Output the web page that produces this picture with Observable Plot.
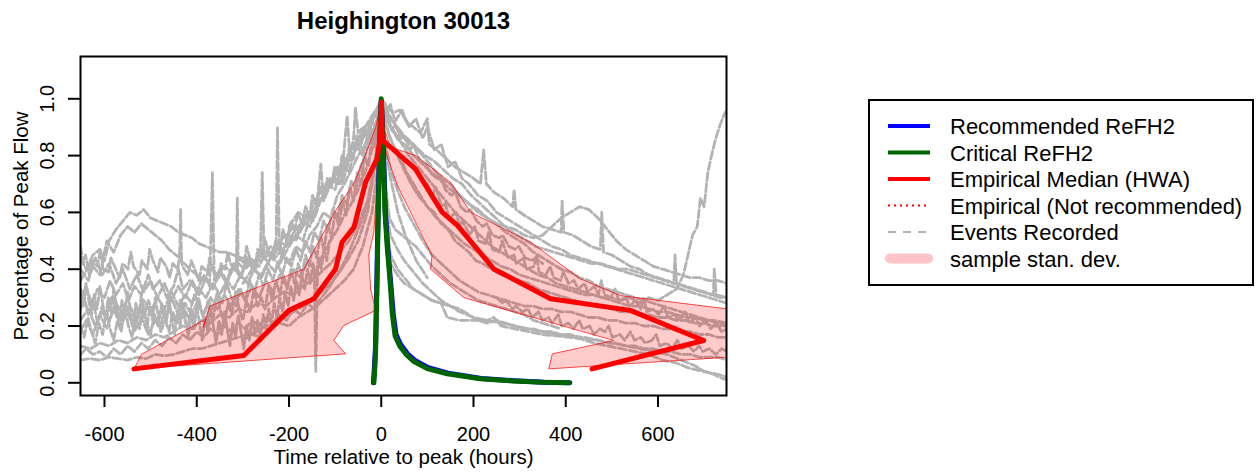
<!DOCTYPE html>
<html><head><meta charset="utf-8">
<script src="https://cdn.jsdelivr.net/npm/d3@7"></script>
<script src="https://cdn.jsdelivr.net/npm/@observablehq/plot@0.6"></script>
<style>
html,body{margin:0;padding:0;background:#fff;}
#wrap{position:relative;width:1258px;height:472px;font-family:"Liberation Sans",Arial,sans-serif;}
</style></head><body><div id="wrap"></div>
<script>
const chartTitle = "Heighington 30013";
const xLabel = "Time relative to peak (hours)";
const yLabel = "Percentage of Peak Flow";
const xTicks = [-600,-400,-200,0,200,400,600];
const yTicks = [0,0.2,0.4,0.6,0.8,1.0];

// Recorded events: [hours, fraction of peak]
const ev1 = [[-652,0.44],[-640,0.40],[-625,0.45],[-610,0.47],[-600,0.43],[-590,0.50],[-575,0.54],[-560,0.57],[-545,0.60],[-530,0.59],[-515,0.61],[-500,0.58],[-485,0.57],[-470,0.56],[-455,0.55],[-440,0.53],[-425,0.52],[-410,0.51],[-395,0.49],[-380,0.48],[-365,0.47],[-350,0.46],[-335,0.46],[-320,0.45],[-305,0.44],[-290,0.44],[-275,0.43],[-260,0.43],[-245,0.45],[-230,0.44],[-215,0.47],[-200,0.49],[-185,0.52],[-170,0.55],[-155,0.58],[-140,0.62],[-125,0.66],[-110,0.70],[-95,0.74],[-80,0.78],[-65,0.82],[-50,0.86],[-35,0.90],[-20,0.94],[-8,0.97],[0,1.0],[8,0.96],[20,0.93],[35,0.90],[50,0.87],[70,0.84],[90,0.80],[110,0.76],[130,0.72],[150,0.70],[170,0.66],[190,0.63],[210,0.60],[230,0.58],[250,0.56],[270,0.55],[290,0.54],[310,0.52],[330,0.51],[350,0.52],[370,0.55],[390,0.58],[410,0.60],[430,0.62],[450,0.61],[470,0.58],[490,0.54],[510,0.50],[530,0.47],[550,0.45],[570,0.43],[590,0.41],[610,0.40],[630,0.39],[650,0.38],[670,0.37],[690,0.37],[710,0.36],[730,0.36],[750,0.35]];
const ev2 = [[-652,0.36],[-630,0.42],[-610,0.38],[-595,0.50],[-580,0.46],[-565,0.52],[-550,0.55],[-535,0.53],[-520,0.56],[-505,0.54],[-490,0.52],[-475,0.50],[-460,0.47],[-445,0.45],[-437,0.44],[-435,0.61],[-433,0.43],[-415,0.40],[-400,0.38],[-385,0.36],[-370,0.40],[-355,0.38],[-340,0.41],[-325,0.39],[-314,0.42],[-312,0.65],[-310,0.42],[-295,0.40],[-280,0.43],[-265,0.41],[-250,0.46],[-235,0.44],[-220,0.50],[-205,0.48],[-190,0.53],[-175,0.56],[-160,0.60],[-145,0.58],[-130,0.65],[-115,0.68],[-100,0.72],[-85,0.70],[-70,0.78],[-55,0.82],[-40,0.86],[-25,0.90],[-12,0.95],[0,1.0],[10,0.97],[25,0.92],[40,0.88],[55,0.85],[75,0.83],[95,0.80],[115,0.78],[135,0.75],[155,0.72],[175,0.70],[195,0.66],[215,0.63],[235,0.60],[255,0.57],[275,0.54],[295,0.52],[315,0.50],[335,0.48],[355,0.47],[375,0.46],[395,0.45],[415,0.44],[435,0.43],[455,0.42],[475,0.42],[495,0.41],[515,0.40],[535,0.40],[555,0.39],[575,0.38],[595,0.37],[615,0.36],[635,0.35],[655,0.34],[675,0.33],[695,0.32],[715,0.31],[735,0.30],[750,0.30]];
const ev3 = [[-652,0.30],[-640,0.34],[-628,0.28],[-615,0.33],[-600,0.30],[-588,0.36],[-575,0.31],[-560,0.35],[-548,0.29],[-535,0.34],[-520,0.31],[-505,0.38],[-495,0.33],[-480,0.36],[-465,0.30],[-450,0.34],[-440,0.40],[-430,0.33],[-415,0.36],[-400,0.32],[-385,0.38],[-372,0.34],[-366,0.74],[-362,0.36],[-350,0.40],[-335,0.36],[-320,0.42],[-305,0.38],[-290,0.44],[-275,0.40],[-262,0.46],[-258,0.74],[-254,0.45],[-240,0.48],[-228,0.46],[-225,0.90],[-221,0.50],[-205,0.52],[-190,0.55],[-175,0.53],[-160,0.60],[-148,0.57],[-135,0.64],[-120,0.67],[-105,0.72],[-90,0.70],[-75,0.77],[-60,0.81],[-45,0.85],[-30,0.89],[-15,0.94],[-5,0.97],[0,0.99],[6,0.95],[15,0.92],[30,0.88],[45,0.84],[60,0.80],[80,0.76],[100,0.72],[120,0.68],[140,0.64],[160,0.60],[180,0.57],[200,0.54],[220,0.51],[240,0.48],[260,0.46],[280,0.44],[300,0.42],[320,0.40],[340,0.38],[360,0.37],[380,0.35],[400,0.34],[420,0.33],[440,0.32],[460,0.31],[480,0.30],[500,0.29],[520,0.28],[540,0.27],[560,0.27],[580,0.26],[600,0.25],[620,0.25],[640,0.24],[660,0.23],[680,0.23],[700,0.22],[720,0.22],[750,0.21]];
const ev4 = [[-652,0.08],[-630,0.085],[-610,0.08],[-590,0.09],[-570,0.085],[-550,0.08],[-530,0.09],[-510,0.085],[-490,0.10],[-470,0.095],[-450,0.10],[-430,0.11],[-410,0.12],[-390,0.12],[-370,0.13],[-350,0.14],[-330,0.15],[-310,0.16],[-290,0.17],[-270,0.18],[-250,0.20],[-230,0.21],[-210,0.23],[-190,0.25],[-170,0.27],[-150,0.29],[-130,0.32],[-110,0.35],[-90,0.39],[-70,0.44],[-50,0.50],[-30,0.60],[-15,0.75],[-5,0.90],[0,0.98],[5,0.80],[12,0.60],[20,0.52],[35,0.47],[50,0.43],[70,0.39],[90,0.35],[110,0.32],[130,0.29],[150,0.27],[170,0.25],[200,0.23],[230,0.22],[260,0.21],[290,0.20],[320,0.19],[350,0.18],[380,0.17],[410,0.165],[440,0.16],[470,0.15],[500,0.14],[530,0.13],[560,0.12],[590,0.11],[620,0.10],[650,0.08],[680,0.06],[700,0.04],[720,0.03],[740,0.015],[750,0.01]];
const ev5 = [[-652,0.13],[-630,0.12],[-610,0.14],[-590,0.13],[-570,0.15],[-550,0.14],[-530,0.16],[-510,0.15],[-490,0.17],[-470,0.16],[-450,0.18],[-430,0.20],[-410,0.19],[-390,0.22],[-370,0.21],[-350,0.24],[-330,0.23],[-310,0.26],[-290,0.25],[-270,0.28],[-250,0.27],[-230,0.30],[-210,0.32],[-190,0.31],[-170,0.34],[-150,0.36],[-130,0.39],[-110,0.42],[-90,0.46],[-70,0.50],[-50,0.56],[-30,0.64],[-15,0.76],[-5,0.90],[0,0.97],[5,0.75],[12,0.55],[20,0.45],[35,0.40],[50,0.37],[70,0.33],[90,0.31],[110,0.29],[130,0.28],[150,0.27],[170,0.26],[190,0.24],[210,0.22],[230,0.21],[250,0.22],[270,0.21],[290,0.20],[310,0.19],[330,0.19],[350,0.18],[370,0.18],[390,0.17],[410,0.17],[430,0.16],[450,0.15],[470,0.15],[490,0.14],[510,0.14],[530,0.13],[550,0.13],[570,0.12],[590,0.12],[610,0.11],[630,0.11],[650,0.10],[670,0.10],[690,0.09],[710,0.09],[730,0.09],[750,0.08]];
const ev6 = [[-652,0.22],[-635,0.26],[-620,0.20],[-605,0.25],[-590,0.22],[-575,0.28],[-560,0.24],[-545,0.27],[-530,0.22],[-515,0.29],[-500,0.25],[-485,0.30],[-470,0.26],[-455,0.32],[-440,0.27],[-425,0.31],[-410,0.28],[-395,0.33],[-380,0.30],[-365,0.35],[-350,0.31],[-335,0.36],[-320,0.33],[-305,0.38],[-290,0.35],[-275,0.40],[-260,0.37],[-245,0.42],[-230,0.39],[-215,0.45],[-200,0.42],[-185,0.48],[-170,0.46],[-155,0.52],[-140,0.55],[-125,0.60],[-110,0.58],[-95,0.66],[-80,0.70],[-65,0.75],[-50,0.80],[-35,0.84],[-20,0.88],[-8,0.93],[0,0.98],[8,0.92],[20,0.86],[35,0.80],[50,0.75],[65,0.70],[80,0.66],[100,0.62],[120,0.58],[140,0.55],[160,0.52],[180,0.49],[200,0.47],[220,0.45],[240,0.43],[260,0.41],[280,0.40],[300,0.38],[320,0.37],[340,0.36],[360,0.35],[380,0.34],[400,0.33],[420,0.32],[440,0.31],[460,0.31],[480,0.30],[500,0.30],[520,0.29],[540,0.30],[560,0.28],[580,0.30],[600,0.29],[620,0.31],[640,0.33],[655,0.38],[665,0.45],[675,0.52],[685,0.55],[692,0.65],[700,0.62],[708,0.74],[716,0.80],[725,0.86],[735,0.91],[745,0.95],[750,0.96]];
const ev7 = [[-652,0.40],[-635,0.36],[-620,0.44],[-605,0.38],[-590,0.42],[-575,0.35],[-560,0.40],[-545,0.33],[-530,0.38],[-515,0.32],[-500,0.36],[-485,0.30],[-470,0.35],[-455,0.29],[-440,0.34],[-425,0.30],[-410,0.36],[-395,0.31],[-380,0.37],[-365,0.33],[-350,0.39],[-335,0.35],[-320,0.41],[-305,0.37],[-290,0.43],[-275,0.39],[-260,0.46],[-245,0.42],[-230,0.49],[-215,0.45],[-200,0.52],[-185,0.50],[-170,0.57],[-155,0.55],[-140,0.62],[-125,0.66],[-110,0.72],[-95,0.70],[-80,0.78],[-65,0.82],[-50,0.85],[-35,0.90],[-20,0.93],[-8,0.96],[0,1.0],[10,0.98],[25,0.95],[40,0.96],[55,0.92],[70,0.90],[85,0.88],[100,0.93],[104,0.84],[120,0.82],[140,0.79],[160,0.76],[180,0.74],[200,0.72],[215,0.70],[222,0.82],[228,0.70],[245,0.67],[265,0.65],[285,0.62],[288,0.68],[292,0.61],[310,0.59],[330,0.57],[350,0.55],[370,0.54],[390,0.53],[392,0.64],[396,0.53],[415,0.52],[435,0.50],[455,0.48],[475,0.47],[478,0.60],[482,0.46],[500,0.45],[520,0.43],[540,0.41],[560,0.40],[580,0.38],[600,0.37],[620,0.36],[634,0.35],[637,0.45],[640,0.35],[660,0.34],[680,0.33],[700,0.32],[720,0.31],[722,0.40],[726,0.31],[750,0.30]];
const ev8 = [[-652,0.18],[-640,0.22],[-625,0.17],[-610,0.24],[-595,0.19],[-580,0.26],[-565,0.20],[-550,0.25],[-535,0.18],[-520,0.23],[-505,0.17],[-490,0.22],[-475,0.19],[-460,0.26],[-445,0.21],[-430,0.27],[-415,0.22],[-400,0.28],[-385,0.24],[-370,0.30],[-355,0.26],[-340,0.31],[-325,0.27],[-310,0.33],[-295,0.29],[-280,0.34],[-265,0.30],[-250,0.36],[-235,0.32],[-220,0.38],[-205,0.34],[-190,0.40],[-175,0.37],[-160,0.43],[-145,0.40],[-142,0.04],[-138,0.40],[-125,0.46],[-110,0.50],[-95,0.54],[-80,0.59],[-65,0.63],[-50,0.68],[-35,0.74],[-20,0.82],[-8,0.90],[0,0.96],[8,0.85],[20,0.75],[35,0.68],[50,0.62],[70,0.56],[90,0.50],[110,0.45],[130,0.42],[150,0.39],[170,0.36],[190,0.34],[210,0.32],[230,0.31],[250,0.30],[270,0.29],[290,0.28],[310,0.27],[330,0.27],[350,0.26],[370,0.26],[390,0.25],[410,0.25],[430,0.24],[450,0.23],[470,0.23],[490,0.22],[510,0.22],[530,0.21],[550,0.21],[570,0.20],[590,0.20],[610,0.19],[630,0.19],[650,0.18],[670,0.18],[690,0.17],[710,0.17],[730,0.16],[750,0.16]];
const ev9 = [[-300,0.15],[-280,0.17],[-260,0.16],[-240,0.19],[-220,0.21],[-200,0.20],[-180,0.23],[-160,0.25],[-140,0.27],[-120,0.30],[-100,0.33],[-80,0.36],[-60,0.40],[-40,0.48],[-20,0.60],[-8,0.75],[0,0.88],[6,0.70],[12,0.55],[20,0.42],[35,0.38],[50,0.35],[70,0.33],[90,0.31],[110,0.29],[130,0.28],[143,0.23],[170,0.22],[200,0.22],[230,0.22],[244,0.23],[260,0.20],[290,0.19],[320,0.18],[350,0.17],[380,0.165],[410,0.16],[432,0.155],[460,0.14],[490,0.13],[520,0.12],[550,0.11],[580,0.10],[610,0.08],[640,0.07],[670,0.05],[700,0.04],[730,0.03],[750,0.02]];
const ev10 = [[-652,0.26],[-645,0.31],[-635,0.24],[-625,0.29],[-615,0.21],[-605,0.27],[-595,0.23],[-585,0.30],[-575,0.26],[-565,0.22],[-555,0.28],[-545,0.24],[-535,0.20],[-525,0.26],[-515,0.23],[-505,0.29],[-495,0.25],[-485,0.21],[-475,0.27],[-465,0.24],[-455,0.30],[-445,0.26],[-435,0.22],[-425,0.28],[-415,0.25],[-405,0.31],[-395,0.27],[-385,0.24],[-375,0.29],[-365,0.26],[-355,0.32],[-345,0.28],[-335,0.35],[-325,0.30],[-315,0.27],[-305,0.33],[-295,0.29],[-285,0.36],[-275,0.32],[-265,0.38],[-255,0.34],[-245,0.40],[-235,0.36],[-225,0.42],[-215,0.38],[-205,0.44],[-195,0.41],[-185,0.47],[-175,0.43],[-165,0.50],[-155,0.46],[-145,0.53],[-135,0.50],[-125,0.57],[-115,0.54],[-105,0.61],[-95,0.58],[-85,0.66],[-75,0.63],[-65,0.71],[-55,0.68],[-45,0.76],[-35,0.80],[-25,0.86],[-15,0.90],[-5,0.95],[0,0.98],[5,0.94],[15,0.88],[25,0.84],[40,0.80],[55,0.74],[70,0.70],[85,0.66],[100,0.62],[115,0.60],[130,0.56],[145,0.54],[160,0.50],[175,0.48],[190,0.46],[205,0.43],[220,0.42],[240,0.40],[260,0.38],[280,0.37],[300,0.36],[320,0.35],[340,0.33],[360,0.32],[380,0.31],[400,0.30],[420,0.29],[440,0.28],[460,0.27],[480,0.27],[500,0.26],[520,0.25],[540,0.25],[560,0.24],[580,0.24],[600,0.23],[620,0.23],[640,0.22],[660,0.22],[680,0.21],[700,0.21],[720,0.20],[750,0.20]];
const ev11 = [[-652,0.10],[-640,0.12],[-625,0.10],[-610,0.11],[-595,0.09],[-580,0.12],[-565,0.10],[-550,0.13],[-535,0.11],[-520,0.14],[-505,0.12],[-490,0.15],[-475,0.13],[-460,0.16],[-445,0.14],[-430,0.17],[-415,0.15],[-400,0.18],[-385,0.16],[-370,0.19],[-355,0.17],[-340,0.20],[-325,0.18],[-310,0.21],[-295,0.19],[-280,0.22],[-265,0.20],[-250,0.23],[-235,0.21],[-220,0.24],[-205,0.22],[-190,0.26],[-175,0.24],[-160,0.28],[-145,0.26],[-130,0.30],[-115,0.33],[-100,0.37],[-85,0.41],[-70,0.46],[-55,0.52],[-40,0.58],[-25,0.66],[-12,0.78],[0,0.92],[8,0.70],[18,0.58],[30,0.54],[45,0.52],[60,0.50],[75,0.48],[90,0.45],[110,0.41],[130,0.38],[150,0.35],[170,0.33],[190,0.31],[210,0.29],[230,0.28],[250,0.27],[270,0.26],[290,0.25],[310,0.24],[330,0.22],[350,0.21],[370,0.20],[390,0.19]];
const ev12 = [[-200,0.55],[-180,0.60],[-160,0.58],[-140,0.65],[-120,0.70],[-100,0.68],[-85,0.78],[-70,0.74],[-55,0.84],[-40,0.80],[-25,0.90],[-15,0.86],[-5,0.96],[0,1.0],[10,0.95],[20,0.98],[30,0.92],[45,0.96],[60,0.90],[75,0.93],[90,0.86],[100,0.90],[115,0.82],[130,0.84],[145,0.76],[160,0.78],[175,0.72],[190,0.70],[210,0.66],[230,0.64],[250,0.60],[270,0.58],[290,0.56],[310,0.54],[330,0.52],[350,0.50],[370,0.48],[390,0.47],[410,0.45],[430,0.44],[450,0.43],[470,0.42],[490,0.41],[510,0.40],[530,0.39],[550,0.38],[570,0.37],[590,0.36],[610,0.35],[630,0.34],[650,0.33],[670,0.32],[690,0.31],[710,0.30],[730,0.29],[750,0.28]];
const ev13 = [[-300,0.35],[-280,0.40],[-260,0.38],[-240,0.44],[-220,0.42],[-200,0.48],[-185,0.52],[-170,0.50],[-155,0.58],[-140,0.62],[-131,0.77],[-125,0.64],[-110,0.70],[-95,0.76],[-85,0.74],[-74,0.94],[-68,0.80],[-60,0.86],[-56,0.97],[-50,0.88],[-40,0.90],[-30,0.86],[-20,0.92],[-10,0.95],[0,0.97],[10,0.93],[20,0.90],[35,0.86],[50,0.84],[70,0.80],[90,0.77],[110,0.74],[130,0.71],[150,0.68],[170,0.66],[190,0.63],[210,0.61],[230,0.58],[250,0.56],[270,0.53],[290,0.51],[310,0.49],[330,0.46],[350,0.44],[370,0.42],[390,0.40],[410,0.39],[430,0.37],[450,0.36],[470,0.34],[490,0.33],[510,0.32],[530,0.31],[550,0.30],[570,0.29],[590,0.28],[610,0.27],[630,0.26],[650,0.25],[670,0.24],[690,0.23],[710,0.22],[730,0.21],[750,0.20]];
const ev14 = [[-652,0.48],[-646,0.42],[-641,0.45],[-633,0.38],[-627,0.43],[-615,0.41],[-609,0.47],[-603,0.40],[-591,0.39],[-586,0.44],[-578,0.41],[-567,0.37],[-561,0.42],[-549,0.40],[-543,0.46],[-537,0.41],[-524,0.38],[-519,0.43],[-507,0.40],[-502,0.47],[-495,0.43],[-484,0.39],[-479,0.44],[-466,0.41],[-459,0.37],[-452,0.42],[-441,0.40],[-437,0.46],[-431,0.41],[-419,0.38],[-412,0.43],[-402,0.39],[-396,0.36],[-389,0.41],[-377,0.39],[-372,0.44],[-365,0.40],[-352,0.37],[-347,0.42],[-338,0.40],[-333,0.46],[-327,0.42],[-314,0.39],[-308,0.44],[-297,0.42],[-292,0.48],[-285,0.44],[-273,0.41],[-268,0.47],[-259,0.44],[-253,0.51],[-246,0.47],[-234,0.44],[-229,0.50],[-219,0.47],[-213,0.54],[-206,0.50],[-195,0.57],[-188,0.53],[-181,0.60],[-172,0.56],[-164,0.62],[-155,0.59],[-149,0.66],[-140,0.62],[-133,0.69],[-124,0.65],[-117,0.72],[-108,0.69],[-101,0.76],[-92,0.73],[-85,0.80],[-76,0.76],[-69,0.83],[-60,0.79],[-53,0.87],[-44,0.83],[-37,0.90],[-28,0.86],[-21,0.93],[-12,0.89],[-5,0.96],[0,0.99],[7,0.92],[13,0.95],[23,0.89],[31,0.91],[42,0.86],[50,0.87],[63,0.82],[70,0.84],[84,0.78],[97,0.77],[106,0.74],[121,0.72],[128,0.73],[139,0.68],[152,0.66],[161,0.67],[172,0.62],[186,0.60],[193,0.61],[207,0.57],[220,0.55],[229,0.56],[241,0.52],[256,0.51],[263,0.52],[277,0.48],[290,0.47],[298,0.48],[312,0.44],[326,0.43],[334,0.44],[350,0.42]];
const ev15 = [[-652,0.20],[-644,0.16],[-636,0.23],[-628,0.18],[-620,0.14],[-612,0.21],[-604,0.17],[-596,0.25],[-588,0.19],[-580,0.15],[-572,0.22],[-564,0.18],[-556,0.26],[-548,0.20],[-540,0.16],[-532,0.23],[-524,0.19],[-516,0.27],[-508,0.21],[-500,0.17],[-492,0.24],[-484,0.20],[-476,0.28],[-468,0.22],[-460,0.18],[-452,0.25],[-444,0.21],[-436,0.29],[-428,0.23],[-420,0.19],[-412,0.26],[-404,0.22],[-396,0.30],[-388,0.24],[-380,0.20],[-372,0.27],[-364,0.23],[-356,0.31],[-348,0.25],[-340,0.21],[-332,0.28],[-324,0.24],[-316,0.32],[-308,0.26],[-300,0.22],[-292,0.29],[-284,0.25],[-276,0.33],[-268,0.27],[-260,0.30],[-252,0.26],[-244,0.34],[-236,0.29],[-228,0.36],[-220,0.31],[-212,0.38],[-204,0.33],[-196,0.40],[-188,0.35],[-180,0.42],[-172,0.38],[-164,0.45],[-156,0.41],[-148,0.48],[-140,0.44],[-132,0.52],[-124,0.47],[-116,0.56],[-108,0.51],[-100,0.60],[-92,0.55],[-84,0.64],[-76,0.59],[-68,0.69],[-60,0.64],[-52,0.74],[-44,0.70],[-36,0.80],[-28,0.76],[-20,0.86],[-12,0.83],[-4,0.94],[0,0.97],[4,0.88],[12,0.80],[20,0.72],[28,0.66],[36,0.60],[44,0.56],[52,0.52],[60,0.49],[68,0.46],[76,0.43],[84,0.41],[92,0.39],[100,0.37]];
const ev16 = [[100,0.70],[112,0.66],[118,0.69],[131,0.62],[139,0.63],[147,0.58],[162,0.60],[170,0.55],[176,0.57],[192,0.52],[203,0.55],[211,0.50],[226,0.49],[233,0.53],[241,0.47],[256,0.46],[262,0.50],[275,0.44],[288,0.45],[293,0.42],[308,0.44],[315,0.40],[331,0.41],[337,0.45],[342,0.39],[357,0.38],[366,0.41],[374,0.37],[389,0.36],[395,0.39],[406,0.35],[418,0.36],[427,0.33],[441,0.35],[448,0.32],[462,0.34],[471,0.31],[477,0.36],[484,0.31],[498,0.30],[507,0.33],[515,0.29],[530,0.30],[539,0.27],[551,0.29],[563,0.26],[569,0.30],[576,0.25],[590,0.26],[601,0.24],[613,0.27],[622,0.23],[637,0.24],[645,0.22],[659,0.25],[668,0.21],[681,0.23],[690,0.20],[703,0.22],[714,0.19],[726,0.21],[738,0.18],[750,0.19]];
const ev17 = [[250,0.30],[264,0.28],[271,0.29],[285,0.26],[292,0.27],[306,0.25],[318,0.26],[327,0.23],[341,0.25],[349,0.22],[363,0.23],[370,0.21],[384,0.24],[391,0.20],[406,0.21],[417,0.19],[429,0.22],[437,0.19],[452,0.20],[461,0.17],[474,0.19],[485,0.18],[493,0.20],[501,0.16],[517,0.17],[528,0.15],[540,0.18],[549,0.15],[563,0.16],[572,0.14],[587,0.15],[596,0.17],[604,0.13],[619,0.14],[631,0.12],[642,0.15],[651,0.12],[666,0.13],[678,0.11],[689,0.13],[697,0.11],[712,0.12],[725,0.10],[738,0.12],[750,0.11]];
const ev18 = [[-652,0.33],[-646,0.27],[-640,0.35],[-634,0.29],[-628,0.24],[-622,0.31],[-616,0.26],[-610,0.34],[-604,0.28],[-598,0.22],[-592,0.30],[-586,0.25],[-580,0.33],[-574,0.27],[-568,0.21],[-562,0.29],[-556,0.24],[-550,0.32],[-544,0.26],[-538,0.20],[-532,0.28],[-526,0.23],[-520,0.31],[-514,0.25],[-508,0.19],[-502,0.27],[-496,0.22],[-490,0.30],[-484,0.24],[-478,0.18],[-472,0.26],[-466,0.21],[-460,0.29],[-454,0.23],[-448,0.17],[-442,0.25],[-436,0.20],[-430,0.28],[-424,0.22],[-418,0.16],[-412,0.24],[-406,0.19],[-400,0.27],[-394,0.21],[-388,0.15],[-382,0.23],[-376,0.18],[-370,0.26],[-364,0.20],[-358,0.14],[-352,0.22],[-346,0.17],[-340,0.25],[-334,0.19],[-328,0.13],[-322,0.21],[-316,0.16],[-310,0.24],[-304,0.18],[-298,0.12],[-292,0.20],[-286,0.15],[-280,0.23],[-274,0.17],[-268,0.22],[-262,0.16],[-256,0.24],[-250,0.19],[-244,0.26],[-238,0.21],[-232,0.28],[-226,0.23],[-220,0.30],[-214,0.25],[-208,0.32],[-202,0.27],[-196,0.34],[-190,0.29],[-184,0.36],[-178,0.31],[-172,0.38],[-166,0.33],[-160,0.40],[-154,0.35],[-148,0.42],[-142,0.37],[-136,0.44],[-130,0.40],[-124,0.47],[-118,0.43],[-112,0.50]];

// Empirical median (HWA)
const medX = [-536,-298,-269,-200,-146,-99,-85,-59,-34,-9,-1.5,0.5,2,74,132,165,244,367,540,699,457];
const medY = [0.049,0.096,0.143,0.255,0.296,0.401,0.495,0.548,0.706,0.789,0.871,0.988,0.855,0.753,0.601,0.554,0.401,0.296,0.255,0.149,0.049];

// Sample standard deviation band (polygon outline)
const sdX = [-536,-520,-380,-386,-372,-168,-99,-60,-35,-12,0,5,20,75,150,194,208,324,432,519,750,750,363,371,504,179,107,110,35,12,5,-5,-16,-27,-23,-12,-81,-103,-77,-536];
const sdY = [0.049,0.10,0.225,0.195,0.27,0.40,0.607,0.70,0.80,0.90,0.99,0.90,0.83,0.80,0.706,0.601,0.589,0.495,0.366,0.307,0.26,0.09,0.049,0.102,0.149,0.30,0.40,0.448,0.695,0.80,0.85,0.80,0.53,0.45,0.33,0.255,0.202,0.149,0.102,0.049];

// ReFH2 hydrographs
const critX = [-16,-14,-12,-9,-7,-5,-3,-1,0,2,4,8,13,19,24,30,40,55,71,100,143,215,287,350,407];
const critY = [0.0,0.05,0.125,0.36,0.55,0.71,0.83,0.95,1.0,0.92,0.83,0.6,0.477,0.36,0.243,0.165,0.13,0.098,0.075,0.05,0.032,0.014,0.006,0.002,0.0];
const recX = [-17,-15,-12.5,-9.5,-7.5,-5.5,-3.5,-1.5,0,2.5,4.5,9,14,20,26,32,42,57,73,102,145,217,289,352,409];
const recY = [0.0,0.05,0.125,0.36,0.55,0.71,0.83,0.95,0.99,0.92,0.83,0.6,0.477,0.36,0.243,0.17,0.135,0.102,0.079,0.053,0.034,0.015,0.007,0.002,0.0];

const legendLabels = ["Recommended ReFH2","Critical ReFH2","Empirical Median (HWA)","Empirical (Not recommended)","Events Recorded","sample stan. dev."];

const events = [ev1,ev2,ev3,ev4,ev5,ev6,ev7,ev8,ev9,ev10,ev11,ev12,ev13,ev14,ev15,ev16,ev17,ev18];
const eventRows = events.flatMap((ev, i) => ev.map(([t, q]) => ({t, q, event: i})));
const med = medX.map((t, i) => ({t, q: medY[i]}));
const sd = sdX.map((t, i) => ({t, q: sdY[i]}));
const crit = critX.map((t, i) => ({t, q: critY[i]}));
const rec = recX.map((t, i) => ({t, q: recY[i]}));

const FONT = '"Liberation Sans", Arial, sans-serif';

const chart = Plot.plot({
  width: 1258, height: 472,
  marginLeft: 80, marginRight: 532, marginTop: 56, marginBottom: 77,
  style: {fontFamily: FONT, background: "#fff", color: "#000", overflow: "visible"},
  x: {domain: [-652, 748.5]},
  y: {domain: [-0.0447, 1.1489]},
  marks: [
    Plot.line(eventRows, {x: "t", y: "q", z: "event", stroke: "#b3b3b3", strokeWidth: 2.8, strokeDasharray: "8,3", clip: true}),
    Plot.line(sd, {x: "t", y: "q", fill: "#ff0000", fillOpacity: 0.2, stroke: "#ff0000", strokeWidth: 0.7, curve: "linear-closed", clip: true}),
    Plot.line(rec, {x: "t", y: "q", stroke: "#0000ff", strokeWidth: 5, clip: true}),
    Plot.line(crit, {x: "t", y: "q", stroke: "#006400", strokeWidth: 5, clip: true}),
    Plot.line(med, {x: "t", y: "q", stroke: "#ff0000", strokeWidth: 5, clip: true}),
    Plot.frame({stroke: "#000", strokeWidth: 2}),
    Plot.axisX({ticks: xTicks, tickSize: 12, tickPadding: 19, fontSize: 20, strokeWidth: 2, label: null, tickFormat: d => String(d)}),
    Plot.axisY({ticks: yTicks, tickSize: 12, strokeWidth: 2, label: null, tickFormat: () => ""}),
    Plot.text(yTicks, {y: d => d, frameAnchor: "left", dx: -27, rotate: -90, textAnchor: "middle", lineAnchor: "bottom", text: d => d.toFixed(1), fontSize: 20}),
    Plot.text([yLabel], {frameAnchor: "left", dx: -53, rotate: -90, textAnchor: "middle", lineAnchor: "bottom", fontSize: 20.5}),
    Plot.text([xLabel], {frameAnchor: "bottom", dy: 68, textAnchor: "middle", lineAnchor: "bottom", fontSize: 20.5}),
    Plot.text([chartTitle], {frameAnchor: "top", dy: -28, textAnchor: "middle", lineAnchor: "bottom", fontSize: 24, fontWeight: "bold"})
  ]
});
const wrap = document.getElementById("wrap");
wrap.appendChild(chart);

// Legend
const legendStyles = [
  {stroke: "#0000ff", width: 4, dash: null, x1: 20, x2: 62, cap: "butt"},
  {stroke: "#006400", width: 4, dash: null, x1: 20, x2: 62, cap: "butt"},
  {stroke: "#ff0000", width: 4, dash: null, x1: 20, x2: 62, cap: "butt"},
  {stroke: "#ff0000", width: 2, dash: "2,4", x1: 20, x2: 62, cap: "butt"},
  {stroke: "#b3b3b3", width: 2, dash: "8,7", x1: 20, x2: 62, cap: "butt"},
  {stroke: "#ffc4c8", width: 10, dash: null, x1: 22, x2: 60, cap: "round"}
];
const rowY = [27, 53.5, 80, 106.5, 133, 159.5];
const lg = d3.create("svg").attr("width", 388).attr("height", 190)
  .style("font-family", FONT).style("position", "absolute").style("left", "868px").style("top", "99px");
lg.append("rect").attr("x", 1).attr("y", 1).attr("width", 384).attr("height", 185)
  .attr("fill", "#fff").attr("stroke", "#000").attr("stroke-width", 2);
legendLabels.forEach((lab, i) => {
  const s = legendStyles[i];
  const ln = lg.append("line").attr("x1", s.x1).attr("x2", s.x2).attr("y1", rowY[i]).attr("y2", rowY[i])
    .attr("stroke", s.stroke).attr("stroke-width", s.width).attr("stroke-linecap", s.cap);
  if (s.dash) ln.attr("stroke-dasharray", s.dash);
  lg.append("text").attr("x", 82).attr("y", rowY[i] + 8).attr("font-size", 22).attr("fill", "#000").text(lab);
});
wrap.appendChild(lg.node());
</script>
</body></html>
